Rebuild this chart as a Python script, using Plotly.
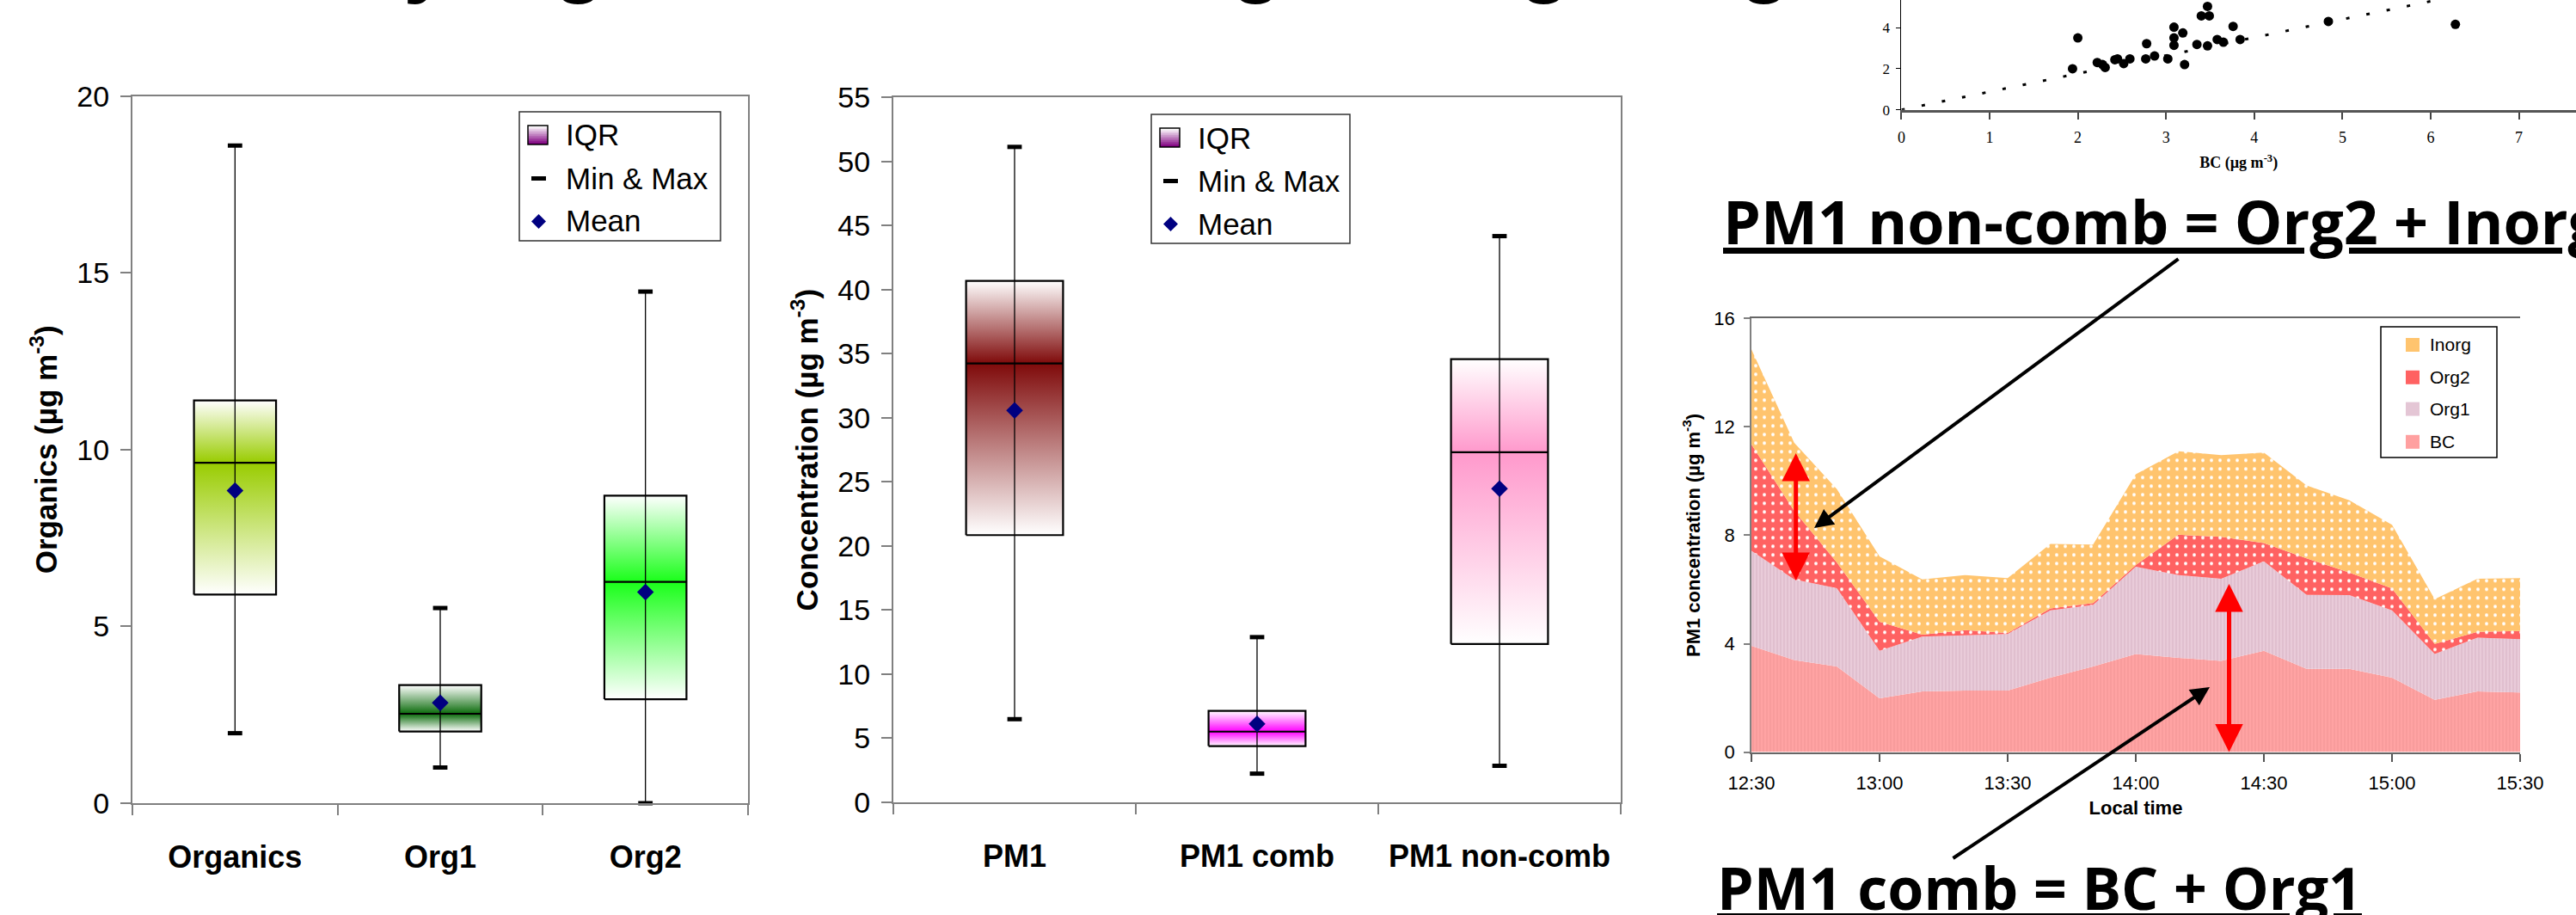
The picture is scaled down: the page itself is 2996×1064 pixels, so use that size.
import plotly.graph_objects as go

W, H = 2996, 1064


def X(px):
    return px / W


def Y(py):
    return 1 - py / H


# ---------------- data ----------------
org_cats = ["Organics", "Org1", "Org2"]
org_min = [1.98, 1.01, 0.00]
org_q1 = [5.90, 2.03, 2.94]
org_med = [9.63, 2.53, 6.26]
org_q3 = [11.39, 3.34, 8.70]
org_max = [18.60, 5.52, 14.47]
org_mean = [8.84, 2.84, 5.97]
org_colors = ["#99cc00", "#0b6b0b", "#1aff1a"]

pm_cats = ["PM1", "PM1 comb", "PM1 non-comb"]
pm_min = [6.49, 2.24, 2.85]
pm_q1 = [20.85, 4.39, 12.36]
pm_med = [34.25, 5.52, 27.32]
pm_q3 = [40.69, 7.14, 34.58]
pm_max = [51.14, 12.89, 44.18]
pm_mean = [30.58, 6.13, 24.48]
pm_colors = ["#7f0a0a", "#ff00ff", "#ff99cc"]

times = ["12:30", "12:40", "12:50", "13:00", "13:10", "13:20", "13:30", "13:40",
         "13:50", "14:00", "14:10", "14:20", "14:30", "14:40", "14:50", "15:00",
         "15:10", "15:20", "15:30"]
bc = [3.92, 3.40, 3.16, 1.99, 2.24, 2.27, 2.27, 2.75, 3.16, 3.62, 3.48, 3.37, 3.74,
      3.07, 3.07, 2.75, 1.93, 2.24, 2.20]
org1 = [3.51, 2.97, 2.89, 1.75, 2.02, 2.04, 2.09, 2.48, 2.27, 3.22, 3.05, 3.03, 3.30,
        2.73, 2.72, 2.48, 1.69, 1.98, 1.97]
org2 = [3.92, 2.53, 0.95, 1.07, 0.07, 0.19, 0.04, 0.07, 0.07, 0.06, 1.49, 1.54, 0.67,
        1.35, 0.84, 0.81, 0.37, 0.22, 0.30]
inorg = [3.51, 2.52, 2.70, 2.41, 2.04, 2.03, 2.02, 2.38, 2.16, 3.35, 3.08, 3.02, 3.34,
         2.69, 2.66, 2.35, 1.65, 1.96, 1.95]

sc_bc = [1.94, 2.00, 2.22, 2.28, 2.31, 2.42, 2.45, 2.52, 2.59, 2.77, 2.78, 2.87, 3.02,
         3.09, 3.09, 3.09, 3.19, 3.21, 3.35, 3.40, 3.47, 3.49, 3.47, 3.58, 3.65, 3.76,
         3.84, 4.84, 6.28]
sc_org1 = [2.00, 3.50, 2.30, 2.20, 2.06, 2.44, 2.48, 2.25, 2.48, 2.48, 3.22, 2.62, 2.48,
           4.02, 3.50, 3.14, 3.74, 2.20, 3.18, 4.57, 5.03, 4.57, 3.11, 3.42, 3.29, 4.06,
           3.42, 4.30, 4.16]
fit_x = [0.0, 7.6]
fit_y = [0.0, 6.69]

# ---------------- styles ----------------
FONT = "Arial, Liberation Sans, sans-serif"
EQ_FONT = "Open Sans, Noto Sans, Liberation Sans, sans-serif"
SERIF = "Times New Roman, Liberation Serif, serif"
GRAY = "#808080"

fig = go.Figure()


def add_box_panel(cats, mn, q1, med, q3, mx, mean, colors, xa, ya):
    half = 0.2
    n = len(cats)
    for i in range(n):
        xs = [i - half, i + half, i + half, i - half, i - half]
        fig.add_trace(go.Scatter(
            x=xs, y=[q1[i], q1[i], med[i], med[i], q1[i]], mode="none", fill="toself",
            fillgradient=dict(type="vertical", colorscale=[[0, "white"], [1, colors[i]]],
                              start=q1[i], stop=med[i]),
            xaxis=xa, yaxis=ya, hoverinfo="skip", showlegend=False))
        fig.add_trace(go.Scatter(
            x=xs, y=[med[i], med[i], q3[i], q3[i], med[i]], mode="none", fill="toself",
            fillgradient=dict(type="vertical", colorscale=[[0, colors[i]], [1, "white"]],
                              start=med[i], stop=q3[i]),
            xaxis=xa, yaxis=ya, hoverinfo="skip", showlegend=False))
    bx, by = [], []
    for i in range(n):
        bx += [i - half, i + half, i + half, i - half, i - half, None, i - half, i + half, None]
        by += [q1[i], q1[i], q3[i], q3[i], q1[i], None, med[i], med[i], None]
    fig.add_trace(go.Scatter(x=bx, y=by, mode="lines", line=dict(color="black", width=2.2),
                             xaxis=xa, yaxis=ya, hoverinfo="skip", showlegend=False))
    wx, wy = [], []
    for i in range(n):
        wx += [i, i, None]
        wy += [mn[i], mx[i], None]
    fig.add_trace(go.Scatter(x=wx, y=wy, mode="lines", line=dict(color="black", width=1.3),
                             xaxis=xa, yaxis=ya, hoverinfo="skip", showlegend=False))
    mx_x, mx_y = [], []
    for i in range(n):
        mx_x += [i, i]
        mx_y += [mn[i], mx[i]]
    fig.add_trace(go.Scatter(x=mx_x, y=mx_y, mode="markers",
                             marker=dict(symbol="line-ew", size=12,
                                         line=dict(width=5, color="black")),
                             xaxis=xa, yaxis=ya, hoverinfo="skip", showlegend=False,
                             cliponaxis=False))
    fig.add_trace(go.Scatter(x=list(range(n)), y=mean, mode="markers",
                             marker=dict(symbol="diamond", size=15, color="#000080",
                                         line=dict(width=0)),
                             xaxis=xa, yaxis=ya, hoverinfo="skip", showlegend=False))


add_box_panel(org_cats, org_min, org_q1, org_med, org_q3, org_max, org_mean, org_colors, "x", "y")
add_box_panel(pm_cats, pm_min, pm_q1, pm_med, pm_q3, pm_max, pm_mean, pm_colors, "x2", "y2")

# ---------------- stacked area ----------------
tx = ["2000-01-01 " + t + ":00" for t in times]
area_specs = [
    ("BC", bc, dict(shape="|", bgcolor="#ffa3a3", fgcolor="#f49898", size=4, solidity=0.3)),
    ("Org1", org1, dict(shape="|", bgcolor="#e9cbd9", fgcolor="#dbb8c8", size=4, solidity=0.3)),
    ("Org2", org2, dict(shape=".", bgcolor="#ff6262", fgcolor="white", size=10, solidity=0.12)),
    ("Inorg", inorg, dict(shape=".", bgcolor="#ffc46e", fgcolor="white", size=10, solidity=0.12)),
]
for name, vals, pat in area_specs:
    fig.add_trace(go.Scatter(x=tx, y=vals, name=name, stackgroup="one", mode="none",
                             fillcolor=pat["bgcolor"], fillpattern=pat,
                             xaxis="x3", yaxis="y3", showlegend=False, hoverinfo="skip"))

# ---------------- scatter ----------------
fig.add_trace(go.Scatter(x=fit_x, y=fit_y, mode="lines",
                         line=dict(color="black", width=3, dash="4px,20px"),
                         xaxis="x4", yaxis="y4", hoverinfo="skip", showlegend=False))
fig.add_trace(go.Scatter(x=sc_bc, y=sc_org1, mode="markers",
                         marker=dict(color="black", size=11),
                         xaxis="x4", yaxis="y4", hoverinfo="skip", showlegend=False))

# ---------------- axes ----------------
tick_font = dict(family=FONT, size=34, color="black")
cat_font = dict(family=FONT, size=36, color="black", weight="bold")
title_font = dict(family=FONT, size=35, color="black", weight="bold")


def box_xaxis(dom, cats, anchor):
    return dict(domain=dom, range=[-0.5, 2.5], anchor=anchor, showline=True,
                linecolor=GRAY, linewidth=2, mirror=True, showgrid=False, zeroline=False,
                tickmode="array", tickvals=[0, 1, 2], ticktext=cats, ticks="",
                tickfont=cat_font, ticklabelstandoff=30,
                minor=dict(tickmode="array", tickvals=[-0.5, 0.5, 1.5, 2.5],
                           ticks="outside", ticklen=12, tickcolor=GRAY, tickwidth=1.5))


def box_yaxis(dom, rng, dt, anchor, title, standoff):
    return dict(domain=dom, range=rng, dtick=dt, anchor=anchor, ticks="outside",
                ticklen=12, tickcolor=GRAY, tickwidth=1.5, showline=True,
                linecolor=GRAY, linewidth=2, mirror=True, showgrid=False, zeroline=False,
                tickfont=tick_font, ticklabelstandoff=6,
                title=dict(text=title, font=title_font, standoff=standoff))


fig.update_layout(
    xaxis=box_xaxis([X(154), X(870)], org_cats, "y"),
    yaxis=box_yaxis([Y(934), Y(111.7)], [0, 20], 5, "x", "Organics (µg m<sup>-3</sup>)", 12),
    xaxis2=box_xaxis([X(1039), X(1885)], pm_cats, "y2"),
    yaxis2=box_yaxis([Y(933), Y(113.3)], [0, 55], 5, "x2", "Concentration (µg m<sup>-3</sup>)", 12),
    xaxis3=dict(domain=[X(2037), X(2931)], anchor="y3", type="date",
                range=["2000-01-01 12:30:00", "2000-01-01 15:30:00"],
                tick0="2000-01-01 12:30:00", dtick=1800000, tickformat="%H:%M",
                ticks="outside", ticklen=9, tickcolor="#555555", tickwidth=1.5,
                showline=True, linecolor="#666666", linewidth=2, mirror=True,
                showgrid=False, zeroline=False,
                tickfont=dict(family=FONT, size=22, color="black"), ticklabelstandoff=6,
                title=dict(text="Local time", font=dict(family=FONT, size=22, color="black",
                                                        weight="bold"), standoff=10)),
    yaxis3=dict(domain=[Y(874.6), Y(370.3)], anchor="x3", range=[0, 16], dtick=4,
                ticks="outside", ticklen=7, tickcolor=GRAY, tickwidth=1.5,
                showline=True, linecolor=GRAY, linewidth=1.5, showgrid=False, zeroline=False,
                tickfont=dict(family=FONT, size=22, color="black"), ticklabelstandoff=6,
                title=dict(text="PM1 concentration (µg m<sup>-3</sup>)",
                           font=dict(family=FONT, size=22, color="black", weight="bold"),
                           standoff=10)),
    xaxis4=dict(domain=[X(2211.4), 1], anchor="y4", range=[0, 7.647], dtick=1,
                ticks="outside", ticklen=8, tickcolor="#444444", tickwidth=1.5,
                showline=True, linecolor="#555555", linewidth=3, showgrid=False,
                zeroline=False, tickfont=dict(family=SERIF, size=18, color="black"),
                ticklabelstandoff=6,
                title=dict(text="BC (µg m<sup>-3</sup>)",
                           font=dict(family=SERIF, size=18, color="black", weight="bold"),
                           standoff=14)),
    yaxis4=dict(domain=[Y(127.7), 1], anchor="x4", range=[0, 5.343], dtick=2,
                ticks="outside", ticklen=5, tickcolor="black", tickwidth=1,
                showline=True, linecolor="black", linewidth=1.2, showgrid=False,
                zeroline=False, tickfont=dict(family=SERIF, size=17, color="black"),
                ticklabelstandoff=4),
)

# ---------------- custom legends ----------------
shapes = []
annotations = []


def rect(x0, y0, x1, y1, fill=None, line_color=None, line_width=0):
    d = dict(type="rect", xref="paper", yref="paper", x0=X(x0), x1=X(x1), y0=Y(y1), y1=Y(y0),
             layer="above")
    d["fillcolor"] = fill if fill else "rgba(0,0,0,0)"
    d["line"] = dict(color=line_color if line_color else "rgba(0,0,0,0)", width=line_width)
    return d


def hex_mix(c1, c2, t):
    a = [int(c1[i:i + 2], 16) for i in (1, 3, 5)]
    b = [int(c2[i:i + 2], 16) for i in (1, 3, 5)]
    return "#" + "".join("%02x" % round(a[k] + (b[k] - a[k]) * t) for k in range(3))


def box_legend(x0, y0, w, h, size):
    shapes.append(rect(x0, y0, x0 + w, y0 + h, fill="white", line_color="#333333",
                       line_width=1.5))
    sx0, sy0, sx1, sy1 = x0 + 10, y0 + 16, x0 + 33, y0 + 38
    steps = 11
    for k in range(steps):
        ya_ = sy0 + (sy1 - sy0) * k / steps
        yb_ = sy0 + (sy1 - sy0) * (k + 1) / steps
        shapes.append(rect(sx0, ya_, sx1, yb_, fill=hex_mix("#ffffff", "#800080", k / (steps - 1))))
    shapes.append(rect(sx0, sy0, sx1, sy1, line_color="black", line_width=1.5))
    shapes.append(rect(x0 + 14, y0 + 75, x0 + 31, y0 + 80, fill="black"))
    cx, cy = x0 + 22.5, y0 + 127.5
    path = "M %f %f L %f %f L %f %f L %f %f Z" % (
        X(cx), Y(cy - 8.5), X(cx + 8.5), Y(cy), X(cx), Y(cy + 8.5), X(cx - 8.5), Y(cy))
    shapes.append(dict(type="path", xref="paper", yref="paper", path=path,
                       fillcolor="#000080", line=dict(width=0), layer="above"))
    for txt, dy in (("IQR", 27), ("Min & Max", 77), ("Mean", 127)):
        annotations.append(dict(text=txt, x=X(x0 + 53), y=Y(y0 + dy), xref="paper",
                                yref="paper", xanchor="left", yanchor="middle",
                                showarrow=False, borderpad=0,
                                font=dict(family=FONT, size=size, color="black")))


box_legend(604, 130, 234, 150, 35)
box_legend(1339, 133, 231, 150, 35)

# area legend
shapes.append(rect(2769, 380, 2904, 532, fill="white", line_color="black", line_width=1.5))
for name, cy, col in (("Inorg", 401, "#ffc46e"), ("Org2", 438.8, "#ff6262"),
                      ("Org1", 475.6, "#e4c6d5"), ("BC", 513.8, "#ffa0a0")):
    shapes.append(rect(2798, cy - 8, 2814, cy + 8, fill=col))
    annotations.append(dict(text=name, x=X(2825), y=Y(cy), xref="paper", yref="paper",
                            xanchor="left", yanchor="middle", showarrow=False, borderpad=0,
                            font=dict(family=FONT, size=21, color="black")))

# ---------------- equations ----------------
annotations.append(dict(text="<u>PM1 non-comb = Org2 + Inorg</u>", x=X(2003), y=Y(257),
                        xref="paper", yref="paper", xanchor="left", yanchor="middle",
                        showarrow=False, borderpad=0,
                        font=dict(family=EQ_FONT, size=70, color="black", weight="bold")))
annotations.append(dict(text="<u>PM1 comb = BC + Org1</u>", x=X(1996), y=Y(1031),
                        xref="paper", yref="paper", xanchor="left", yanchor="middle",
                        showarrow=False, borderpad=0,
                        font=dict(family=EQ_FONT, size=68, color="black", weight="bold")))

# clipped title descenders at the very top
for ch, cx in (("y", 497), ("g", 673), ("g", 1461), ("g", 1796), ("g", 2052)):
    annotations.append(dict(text=ch, x=X(cx), y=Y(6), xref="paper", yref="paper",
                            xanchor="center", yanchor="bottom", showarrow=False, borderpad=0,
                            font=dict(family=FONT, size=100, color="black", weight="bold")))

# ---------------- arrows ----------------
for hx, hy, ty in ((2088.7, 675, 525.5), (2592.5, 874.6, 677.5)):
    annotations.append(dict(text="", x=X(hx), y=Y(hy), xref="paper", yref="paper",
                            ax=0, ay=ty - hy, axref="pixel", ayref="pixel",
                            showarrow=True, arrowside="end+start", arrowhead=2,
                            startarrowhead=2, arrowsize=1.3, startarrowsize=1.3,
                            arrowwidth=5, arrowcolor="#ff0000", standoff=0, startstandoff=0))
for hx, hy, tx_, ty_ in ((2110, 614, 2535, 300), (2570, 799, 2270, 999)):
    annotations.append(dict(text="", x=X(hx), y=Y(hy), xref="paper", yref="paper",
                            ax=tx_ - hx, ay=ty_ - hy, axref="pixel", ayref="pixel",
                            showarrow=True, arrowhead=2, arrowsize=1.1, arrowwidth=4,
                            arrowcolor="black", standoff=0))

fig.update_layout(
    width=W, height=H, margin=dict(l=0, r=0, t=0, b=0, pad=0),
    paper_bgcolor="white", plot_bgcolor="white", template="none",
    showlegend=False, shapes=shapes, annotations=annotations,
    font=dict(family=FONT, color="black"),
)

fig.write_html("out.html", config={"displayModeBar": False},
               post_script="document.body.style.margin='0';")
